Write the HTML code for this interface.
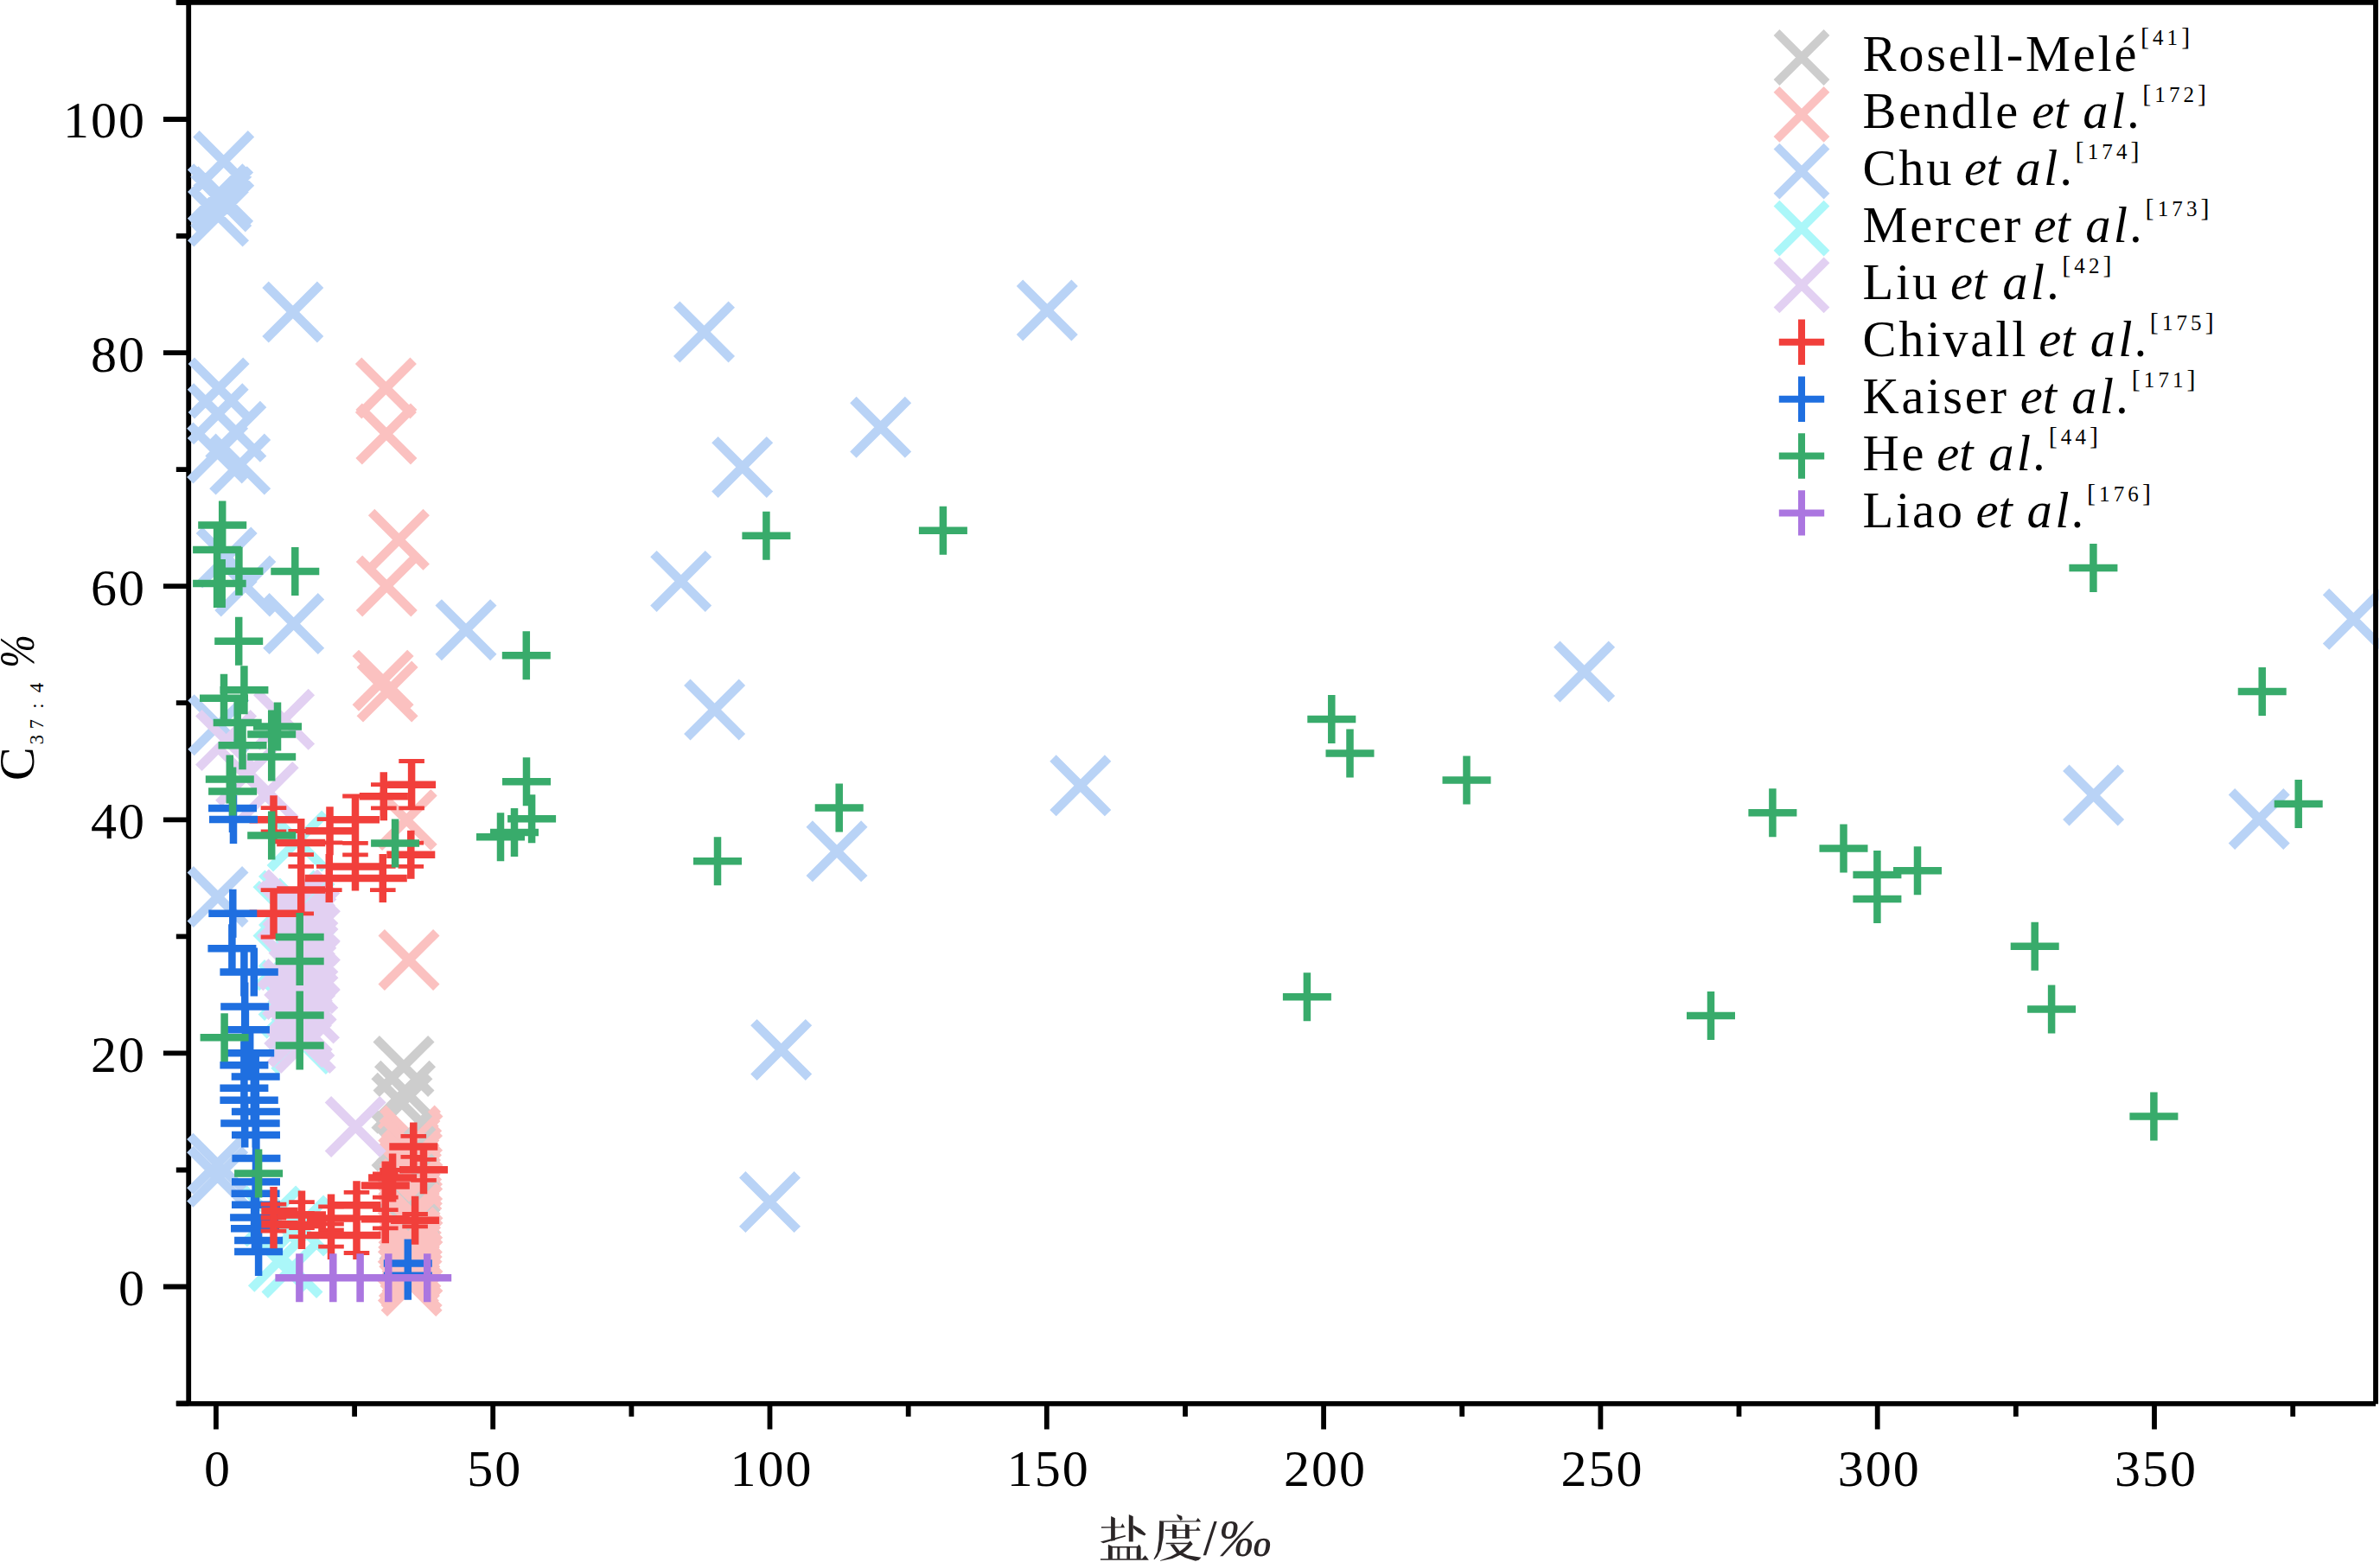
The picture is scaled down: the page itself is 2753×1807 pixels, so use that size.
<!DOCTYPE html>
<html lang="zh"><head><meta charset="utf-8"><title>C37:4% vs salinity</title>
<style>html,body{margin:0;padding:0;background:#fff}body{width:2753px;height:1807px;overflow:hidden}svg{display:block}text{font-family:"Liberation Serif",serif;fill:#000}.tk{font-size:60px;letter-spacing:2px}.lg{font-size:58.5px;letter-spacing:2.8px}.it{font-style:italic}.sp{font-size:25px;letter-spacing:4.1px}.bk{font-size:30px}</style></head><body>
<svg width="2753" height="1807" viewBox="0 0 2753 1807">
<rect width="2753" height="1807" fill="#fff"/>
<g stroke="#000" stroke-width="5.8" fill="none" stroke-linecap="butt">
<path d="M203.8 1623.8H2748M218.2 2.8V1623.8"/>
<path d="M203.8 1623.5H218.2M188.9 1488.5H218.2M203.8 1353.5H218.2M188.9 1218.4H218.2M203.8 1083.3H218.2M188.9 948.3H218.2M203.8 813.2H218.2M188.9 678.2H218.2M203.8 543.1H218.2M188.9 408.1H218.2M203.8 273H218.2M188.9 138H218.2M203.8 2.9H218.2"/>
<path d="M249.9 1623.8V1653.5M410.1 1623.8V1638.8M570.2 1623.8V1653.5M730.4 1623.8V1638.8M890.5 1623.8V1653.5M1050.7 1623.8V1638.8M1210.8 1623.8V1653.5M1371 1623.8V1638.8M1531.1 1623.8V1653.5M1691.2 1623.8V1638.8M1851.4 1623.8V1653.5M2011.5 1623.8V1638.8M2171.7 1623.8V1653.5M2331.8 1623.8V1638.8M2492 1623.8V1653.5M2652.2 1623.8V1638.8"/>
</g>
<g class="tk">
<text x="168.9" y="1509.9" text-anchor="end">0</text>
<text x="168.9" y="1239.8" text-anchor="end">20</text>
<text x="168.9" y="969.7" text-anchor="end">40</text>
<text x="168.9" y="699.6" text-anchor="end">60</text>
<text x="168.9" y="429.5" text-anchor="end">80</text>
<text x="168.9" y="159.4" text-anchor="end">100</text>
<text x="251.9" y="1719.2" text-anchor="middle">0</text>
<text x="572.2" y="1719.2" text-anchor="middle">50</text>
<text x="892.5" y="1719.2" text-anchor="middle">100</text>
<text x="1212.8" y="1719.2" text-anchor="middle">150</text>
<text x="1533.1" y="1719.2" text-anchor="middle">200</text>
<text x="1853.4" y="1719.2" text-anchor="middle">250</text>
<text x="2173.7" y="1719.2" text-anchor="middle">300</text>
<text x="2494" y="1719.2" text-anchor="middle">350</text>
</g>
<clipPath id="cp"><rect x="205" y="0" width="2546.6" height="1700"/></clipPath><g clip-path="url(#cp)">
<path fill="none" stroke="#CDCDCD" stroke-width="10.5" d="M435.2 1201.7L498.8 1265.3M435.2 1265.3L498.8 1201.7M436.7 1230.5L500.3 1294.1M436.7 1294.1L500.3 1230.5M433.1 1244.5L496.7 1308.1M433.1 1308.1L496.7 1244.5"/>
<path fill="none" stroke="#FBC1C0" stroke-width="10.5" d="M414.6 417.2L478.2 480.8M414.6 480.8L478.2 417.2M415.1 470.2L478.7 533.8M415.1 533.8L478.7 470.2M429.6 592.5L493.2 656.1M429.6 656.1L493.2 592.5M415.5 646.2L479.1 709.8M415.5 709.8L479.1 646.2M411.3 755.4L474.9 819M411.3 819L474.9 755.4M416.3 768.3L479.9 831.9M416.3 831.9L479.9 768.3M438.4 916.8L502 980.4M438.4 980.4L502 916.8M441.2 1078.7L504.8 1142.3M441.2 1142.3L504.8 1078.7"/>
<path fill="none" stroke="#FBC1C0" stroke-width="10.5" d="M442.7 1282.2L506.3 1345.8M442.7 1345.8L506.3 1282.2M445.2 1287.8L508.8 1351.4M445.2 1351.4L508.8 1287.8"/>
<path fill="none" stroke="#CDCDCD" stroke-width="10.5" d="M433.2 1288.2L496.8 1351.8M433.2 1351.8L496.8 1288.2"/>
<path fill="none" stroke="#FBC1C0" stroke-width="10.5" d="M442.1 1293.4L505.7 1357M442.1 1357L505.7 1293.4M440.4 1299L504 1362.6M440.4 1362.6L504 1299M443.9 1304.6L507.5 1368.2M443.9 1368.2L507.5 1304.6"/>
<path fill="none" stroke="#CDCDCD" stroke-width="10.5" d="M440.2 1306.2L503.8 1369.8M440.2 1369.8L503.8 1306.2"/>
<path fill="none" stroke="#FBC1C0" stroke-width="10.5" d="M444.7 1310.2L508.3 1373.8M444.7 1373.8L508.3 1310.2M441 1315.8L504.6 1379.4M441 1379.4L504.6 1315.8M441.2 1321.4L504.8 1385M441.2 1385L504.8 1321.4M444.8 1327L508.4 1390.6M444.8 1390.6L508.4 1327M443.7 1332.6L507.3 1396.2M443.7 1396.2L507.3 1332.6M440.3 1338.2L503.9 1401.8M440.3 1401.8L503.9 1338.2"/>
<path fill="none" stroke="#CDCDCD" stroke-width="10.5" d="M439.2 1338.2L502.8 1401.8M439.2 1401.8L502.8 1338.2"/>
<path fill="none" stroke="#FBC1C0" stroke-width="10.5" d="M442.3 1343.8L505.9 1407.4M442.3 1407.4L505.9 1343.8M445.2 1349.4L508.8 1413M445.2 1413L508.8 1349.4M442.4 1355L506 1418.6M442.4 1418.6L506 1355M440.3 1360.6L503.9 1424.2M440.3 1424.2L503.9 1360.6M443.6 1366.2L507.2 1429.8M443.6 1429.8L507.2 1366.2"/>
<path fill="none" stroke="#CDCDCD" stroke-width="10.5" d="M441.2 1366.2L504.8 1429.8M441.2 1429.8L504.8 1366.2"/>
<path fill="none" stroke="#FBC1C0" stroke-width="10.5" d="M444.9 1371.8L508.5 1435.4M444.9 1435.4L508.5 1371.8M441.2 1377.4L504.8 1441M441.2 1441L504.8 1377.4M440.9 1383L504.5 1446.6M440.9 1446.6L504.5 1383M444.6 1388.6L508.2 1452.2M444.6 1452.2L508.2 1388.6M444 1394.2L507.6 1457.8M444 1457.8L507.6 1394.2"/>
<path fill="none" stroke="#CDCDCD" stroke-width="10.5" d="M442.2 1396.2L505.8 1459.8M442.2 1459.8L505.8 1396.2"/>
<path fill="none" stroke="#FBC1C0" stroke-width="10.5" d="M440.4 1399.8L504 1463.4M440.4 1463.4L504 1399.8M442 1405.4L505.6 1469M442 1469L505.6 1405.4M445.2 1411L508.8 1474.6M445.2 1474.6L508.8 1411M442.8 1416.6L506.4 1480.2M442.8 1480.2L506.4 1416.6M440.2 1422.2L503.8 1485.8M440.2 1485.8L503.8 1422.2M443.2 1427.8L506.8 1491.4M443.2 1491.4L506.8 1427.8M445.1 1433.4L508.7 1497M445.1 1497L508.7 1433.4M441.6 1439L505.2 1502.6M441.6 1502.6L505.2 1439M440.6 1444.6L504.2 1508.2M440.6 1508.2L504.2 1444.6M444.4 1450.2L508 1513.8M444.4 1513.8L508 1450.2M444.3 1455.8L507.9 1519.4M444.3 1519.4L507.9 1455.8"/>
<path fill="none" stroke="#B9D3F6" stroke-width="10.5" d="M226.9 154.8L290.5 218.4M226.9 218.4L290.5 154.8M223.9 201.1L287.5 264.7M223.9 264.7L287.5 201.1M220.5 192.9L284.1 256.5M220.5 256.5L284.1 192.9M225.8 195.9L289.4 259.5M225.8 259.5L289.4 195.9M220.7 218.3L284.3 281.9M220.7 281.9L284.3 218.3M307 329.2L370.6 392.8M307 392.8L370.6 329.2M221.3 417.2L284.9 480.8M221.3 480.8L284.9 417.2M220.4 447L284 510.6M220.4 510.6L284 447M241 467.5L304.6 531.1M241 531.1L304.6 467.5M245.9 505.3L309.5 568.9M245.9 568.9L309.5 505.3M219.8 492.1L283.4 555.7M219.8 555.7L283.4 492.1M230.4 613.2L294 676.8M230.4 676.8L294 613.2M252 646.2L315.6 709.8M252 709.8L315.6 646.2M307.9 689.8L371.5 753.4M307.9 753.4L371.5 689.8M507.2 696.9L570.8 760.5M507.2 760.5L570.8 696.9M221 806.9L284.6 870.5M221 870.5L284.6 806.9M220.2 1005.7L283.8 1069.3M220.2 1069.3L283.8 1005.7M219.8 1314.4L283.4 1378M219.8 1378L283.4 1314.4M219.8 1329.5L283.4 1393.1M219.8 1393.1L283.4 1329.5M782.7 352.1L846.3 415.7M782.7 415.7L846.3 352.1M1179.5 327.2L1243.1 390.8M1179.5 390.8L1243.1 327.2M986.9 462.5L1050.5 526.1M986.9 526.1L1050.5 462.5M826.9 508.6L890.5 572.2M826.9 572.2L890.5 508.6M755.9 640.6L819.5 704.2M755.9 704.2L819.5 640.6M794.8 789.2L858.4 852.8M794.8 852.8L858.4 789.2M1218 877L1281.6 940.6M1218 940.6L1281.6 877M936.2 953L999.8 1016.6M936.2 1016.6L999.8 953M871.9 1182.6L935.5 1246.2M871.9 1246.2L935.5 1182.6M858.7 1358.8L922.3 1422.4M858.7 1422.4L922.3 1358.8M1800.8 745.1L1864.4 808.7M1800.8 808.7L1864.4 745.1M2690.5 684.5L2754.1 748.1M2690.5 748.1L2754.1 684.5M2389.8 888.2L2453.4 951.8M2389.8 951.8L2453.4 888.2M2581.4 915.7L2645 979.3M2581.4 979.3L2645 915.7"/>
<path fill="none" stroke="#ABF7F9" stroke-width="10.5" d="M290.6 1427.4L354.2 1491M290.6 1491L354.2 1427.4M306.2 1434.6L369.8 1498.2M306.2 1498.2L369.8 1434.6M312.3 941.2L375.9 1004.8M312.3 1004.8L375.9 941.2M320.2 1019.2L383.8 1082.8M320.2 1082.8L383.8 1019.2M282.2 1375.2L345.8 1438.8M282.2 1438.8L345.8 1375.2M314.2 1386.2L377.8 1449.8M314.2 1449.8L377.8 1386.2M296.2 1022.5L359.8 1086.1M296.2 1086.1L359.8 1022.5M296.2 1078.9L359.8 1142.5M296.2 1142.5L359.8 1078.9M302.7 1010.2L366.3 1073.8M302.7 1073.8L366.3 1010.2M321.4 1030.9L385 1094.5M321.4 1094.5L385 1030.9M322.1 1051.6L385.7 1115.2M322.1 1115.2L385.7 1051.6M319.7 1072.3L383.3 1135.9M319.7 1135.9L383.3 1072.3M316.2 1093L379.8 1156.6M316.2 1156.6L379.8 1093M302.3 1113.7L365.9 1177.3M302.3 1177.3L365.9 1113.7M305 1134.4L368.6 1198M305 1198L368.6 1134.4M313 1155.1L376.6 1218.7M313 1218.7L376.6 1155.1M317 1175.8L380.6 1239.4M317 1239.4L380.6 1175.8"/>
<path fill="none" stroke="#E2D0F2" stroke-width="10.5" d="M296.8 800.5L360.4 864.1M296.8 864.1L360.4 800.5M229.8 824.7L293.4 888.3M229.8 888.3L293.4 824.7M278.4 884.6L342 948.2M278.4 948.2L342 884.6M252.8 865.9L316.4 929.5M252.8 929.5L316.4 865.9M379.4 1271.7L443 1335.3M379.4 1335.3L443 1271.7M307.2 1009.2L370.8 1072.8M307.2 1072.8L370.8 1009.2M309.2 1016.1L372.8 1079.7M309.2 1079.7L372.8 1016.1M318.7 1023L382.3 1086.6M318.7 1086.6L382.3 1023M325.9 1029.9L389.5 1093.5M325.9 1093.5L389.5 1029.9M322 1036.8L385.6 1100.4M322 1100.4L385.6 1036.8M320.6 1043.7L384.2 1107.3M320.6 1107.3L384.2 1043.7M326.6 1050.6L390.2 1114.2M326.6 1114.2L390.2 1050.6M319.1 1057.5L382.7 1121.1M319.1 1121.1L382.7 1057.5M324.1 1064.4L387.7 1128M324.1 1128L387.7 1064.4M324.2 1071.3L387.8 1134.9M324.2 1134.9L387.8 1071.3M319.1 1078.2L382.7 1141.8M319.1 1141.8L382.7 1078.2M326.5 1085.1L390.1 1148.7M326.5 1148.7L390.1 1085.1M320.7 1092L384.3 1155.6M320.7 1155.6L384.3 1092M314.2 1098.9L377.8 1162.5M314.2 1162.5L377.8 1098.9M324 1105.8L387.6 1169.4M324 1169.4L387.6 1105.8M306.8 1112.7L370.4 1176.3M306.8 1176.3L370.4 1112.7M322.3 1119.6L385.9 1183.2M322.3 1183.2L385.9 1119.6M316.6 1126.5L380.2 1190.1M316.6 1190.1L380.2 1126.5M309.5 1133.4L373.1 1197M309.5 1197L373.1 1133.4M325.7 1140.3L389.3 1203.9M325.7 1203.9L389.3 1140.3M308.9 1147.2L372.5 1210.8M308.9 1210.8L372.5 1147.2M317.5 1154.1L381.1 1217.7M317.5 1217.7L381.1 1154.1M320.1 1161L383.7 1224.6M320.1 1224.6L383.7 1161M312.3 1167.9L375.9 1231.5M312.3 1231.5L375.9 1167.9M321.5 1174.8L385.1 1238.4M321.5 1238.4L385.1 1174.8M300.7 1022.5L364.3 1086.1M300.7 1086.1L364.3 1022.5M300.7 1078.9L364.3 1142.5M300.7 1142.5L364.3 1078.9"/>
<path fill="none" stroke="#F13F3B" stroke-width="4.8" d="M476.1 880.5V934.9M443.8 907.7V934.9M411 921V975.4M381.5 947.7V974.9M348.2 961.5V988.7M316.5 934.6V961.8M316.5 1029.6V1084M348.2 1002.4V1056.8M380.8 1002.4V1029.6M411 988.8V1016M442.8 1002.4V1029.6M475.3 975.1V1002.3"/>
<path fill="none" stroke="#F13F3B" stroke-width="4.8" d="M461.3 880.5H490.9M461.3 934.9H490.9M429 907.7H458.6M429 934.9H458.6M396.2 921H425.8M396.2 975.4H425.8M366.7 947.7H396.3M366.7 974.9H396.3M333.4 961.5H363M333.4 988.7H363M301.7 934.6H331.3M301.7 961.8H331.3M301.7 1029.6H331.3M301.7 1084H331.3M333.4 1002.4H363M333.4 1056.8H363M366 1002.4H395.6M366 1029.6H395.6M396.2 988.8H425.8M396.2 1016H425.8M428 1002.4H457.6M428 1029.6H457.6M460.5 975.1H490.1M460.5 1002.3H490.1"/>
<path fill="none" stroke="#F13F3B" stroke-width="8.5" d="M448.1 907.7H504.1M476.1 879.7V935.7M415.8 921.3H471.8M443.8 893.3V949.3M383 948.2H439M411 920.2V976.2M353.5 961.3H409.5M381.5 933.3V989.3M320.2 975.1H376.2M348.2 947.1V1003.1M288.5 948.2H344.5M316.5 920.2V976.2M288.5 1056.8H344.5M316.5 1028.8V1084.8M320.2 1029.6H376.2M348.2 1001.6V1057.6M352.8 1016H408.8M380.8 988V1044M383 1002.4H439M411 974.4V1030.4M414.8 1016H470.8M442.8 988V1044M447.3 988.7H503.3M475.3 960.7V1016.7"/>
<path fill="none" stroke="#1F6FE0" stroke-width="8.5" d="M241 934.9H297M269 906.9V962.9M242 947.9H298M270 919.9V975.9M241.3 1056.8H297.3M269.3 1028.8V1084.8M240.4 1097.3H296.4M268.4 1069.3V1125.3M254.4 1124.6H310.4M282.4 1096.6V1152.6M265.8 1124.6H321.8M293.8 1096.6V1152.6M255.2 1164.5H311.2M283.2 1136.5V1192.5M255.9 1191.3H311.9M283.9 1163.3V1219.3M261.2 1218.2H317.2M289.2 1190.2V1246.2M254.4 1232.2H310.4M282.4 1204.2V1260.2M267.7 1245.5H323.7M295.7 1217.5V1273.5M254.4 1258.8H310.4M282.4 1230.8V1286.8M254.4 1272.7H310.4M282.4 1244.7V1300.7M265.8 1272.7H321.8M293.8 1244.7V1300.7M267.9 1286H323.9M295.9 1258V1314M255.2 1299.5H311.2M283.2 1271.5V1327.5M267.7 1299.5H323.7M295.7 1271.5V1327.5M268 1313.1H324M296 1285.1V1341.1M268.4 1340H324.4M296.4 1312V1368M268 1367.2H324M296 1339.2V1395.2M267.6 1380.8H323.6M295.6 1352.8V1408.8M268 1393.8H324M296 1365.8V1421.8M266.1 1408.4H322.1M294.1 1380.4V1436.4M267 1421.2H323M295 1393.2V1449.2M271.1 1435.1H327.1M299.1 1407.1V1463.1M271.1 1448H327.1M299.1 1420V1476M443.8 1461.6H499.8M471.8 1433.6V1489.6M443.8 1475.7H499.8M471.8 1447.7V1503.7"/>
<path fill="none" stroke="#F13F3B" stroke-width="4.8" d="M316.5 1393.1V1409.1M316.5 1408.2V1424.2M349 1390.6V1420.6M349 1403.4V1430.6M383 1395.8V1423M383 1416.1V1442.1M412.5 1379.3V1409.3M412.5 1408.7V1449.5M445.8 1358V1385.2M445.8 1399.6V1420.8M454.1 1353.5V1371.5M480.1 1404.5V1418.9M490 1341.3V1365.3M478.3 1314.4V1338.4"/>
<path fill="none" stroke="#F13F3B" stroke-width="4.8" d="M301.7 1393.1H331.3M301.7 1409.1H331.3M301.7 1408.2H331.3M301.7 1424.2H331.3M334.2 1390.6H363.8M334.2 1420.6H363.8M334.2 1403.4H363.8M334.2 1430.6H363.8M368.2 1395.8H397.8M368.2 1423H397.8M368.2 1416.1H397.8M368.2 1442.1H397.8M397.7 1379.3H427.3M397.7 1409.3H427.3M397.7 1408.7H427.3M397.7 1449.5H427.3M431 1358H460.6M431 1385.2H460.6M431 1399.6H460.6M431 1420.8H460.6M439.3 1353.5H468.9M439.3 1371.5H468.9M465.3 1404.5H494.9M465.3 1418.9H494.9M475.2 1341.3H504.8M475.2 1365.3H504.8M463.5 1314.4H493.1M463.5 1338.4H493.1"/>
<path fill="none" stroke="#F13F3B" stroke-width="8.5" d="M302.3 1401.1H344.5M316.5 1373.1V1429.1M302.3 1416.2H344.5M316.5 1388.2V1444.2M321 1405.6H377M349 1377.6V1433.6M321 1417H377M349 1389V1445M355 1409.4H411M383 1381.4V1437.4M355 1429.1H411M383 1401.1V1457.1M384.5 1394.3H440.5M412.5 1366.3V1422.3M384.5 1429.1H440.5M412.5 1401.1V1457.1M417.8 1371.6H473.8M445.8 1343.6V1399.6M417.8 1410.2H473.8M445.8 1382.2V1438.2M426.1 1362.5H482.1M454.1 1334.5V1390.5M452.1 1411.7H508.1M480.1 1383.7V1439.7M462 1353.3H518M490 1325.3V1381.3M450.3 1326.4H506.3M478.3 1298.4V1354.4"/>
<path fill="none" stroke="#38AB6B" stroke-width="8.5" d="M229.2 607.5H285.2M257.2 579.5V635.5M223.1 636.1H279.1M251.1 608.1V664.1M248.4 660.8H304.4M276.4 632.8V688.8M223.1 675.1H279.1M251.1 647.1V703.1M228.7 675.1H284.7M256.7 647.1V703.1M313.3 660.9H369.3M341.3 632.9V688.9M248.2 741.8H304.2M276.2 713.8V769.8M254.4 798.2H310.4M282.4 770.2V826.2M231 807.8H287M259 779.8V835.8M246.7 836.1H302.7M274.7 808.1V864.1M252.5 862.3H308.5M280.5 834.3V890.3M293 840.6H349M321 812.6V868.6M286.2 849.4H342.2M314.2 821.4V877.4M286.2 875.4H342.2M314.2 847.4V903.4M237.8 901.6H293.8M265.8 873.6V929.6M241.1 915.5H297.1M269.1 887.5V943.5M286.2 966.6H342.2M314.2 938.6V994.6M429.1 975.4H485.1M457.1 947.4V1003.4M318.7 1084H374.7M346.7 1056V1112M318.7 1112H374.7M346.7 1084V1140M318.7 1174.4H374.7M346.7 1146.4V1202.4M231.6 1200.3H287.6M259.6 1172.3V1228.3M318.7 1209.6H374.7M346.7 1181.6V1237.6M271.1 1357.5H327.1M299.1 1329.5V1385.5M581 904.2H637M609 876.2V932.2M587.1 947.2H643.1M615.1 919.2V975.2M567 963H623M595 935V991M551 968.3H607M579 940.3V996.3M858.4 619.8H914.4M886.4 591.8V647.8M1062.9 613.7H1118.9M1090.9 585.7V641.7M580.8 758.2H636.8M608.8 730.2V786.2M942.7 934.5H998.7M970.7 906.5V962.5M802 996.2H858M830 968.2V1024.2M1512.3 832.1H1568.3M1540.3 804.1V860.1M1533.5 871.5H1589.5M1561.5 843.5V899.5M1668.5 902.5H1724.5M1696.5 874.5V930.5M2022.4 940.3H2078.4M2050.4 912.3V968.3M2104.5 981.5H2160.5M2132.5 953.5V1009.5M2143.4 1012H2199.4M2171.4 984V1040M2190 1007.3H2246M2218 979.3V1035.3M2143.4 1040H2199.4M2171.4 1012V1068M1483.9 1153.2H1539.9M1511.9 1125.2V1181.2M1951 1175.1H2007M1979 1147.1V1203.1M2393.4 657H2449.4M2421.4 629V685M2588.7 800.1H2644.7M2616.7 772.1V828.1M2630.7 930H2686.7M2658.7 902V958M2325.7 1094.7H2381.7M2353.7 1066.7V1122.7M2345.1 1167.6H2401.1M2373.1 1139.6V1195.6M2463.4 1291.4H2519.4M2491.4 1263.4V1319.4"/>
<path fill="none" stroke="#AB76E0" stroke-width="8.5" d="M318.4 1478.2H374.4M346.4 1450.2V1506.2M357.3 1478.2H413.3M385.3 1450.2V1506.2M388.6 1478.2H444.6M416.6 1450.2V1506.2M421.3 1478.2H477.3M449.3 1450.2V1506.2M466.2 1478.2H522.2M494.2 1450.2V1506.2"/>
</g>
<path stroke="#000" stroke-width="5.8" fill="none" d="M203.8 2.8H2750.9M2748 2.8V1624.3"/>
<path fill="none" stroke="#CDCDCD" stroke-width="9.6" d="M2055 37.5L2113 95.5M2055 95.5L2113 37.5"/>
<text class="lg" x="2154.4" y="81.7">Rosell-Melé</text>
<text class="sp" x="2475.9" y="51.8"><tspan class="bk">[</tspan>41<tspan class="bk">]</tspan></text>
<path fill="none" stroke="#FBC1C0" stroke-width="9.6" d="M2055 103.4L2113 161.4M2055 161.4L2113 103.4"/>
<text class="lg" x="2154.4" y="147.8">Bendle</text>
<text class="lg it" x="2350.2" y="147.8" style="letter-spacing:0">et</text>
<text class="lg it" x="2409.2" y="147.8" style="letter-spacing:3.4px">al.</text>
<text class="sp" x="2478.2" y="117.9"><tspan class="bk">[</tspan>172<tspan class="bk">]</tspan></text>
<path fill="none" stroke="#B9D3F6" stroke-width="9.6" d="M2055 169.2L2113 227.2M2055 227.2L2113 169.2"/>
<text class="lg" x="2154.4" y="213.8">Chu</text>
<text class="lg it" x="2271.9" y="213.8" style="letter-spacing:0">et</text>
<text class="lg it" x="2331.4" y="213.8" style="letter-spacing:3.4px">al.</text>
<text class="sp" x="2400.6" y="183.9"><tspan class="bk">[</tspan>174<tspan class="bk">]</tspan></text>
<path fill="none" stroke="#ABF7F9" stroke-width="9.6" d="M2055 235.1L2113 293.1M2055 293.1L2113 235.1"/>
<text class="lg" x="2154.4" y="279.9">Mercer</text>
<text class="lg it" x="2352.6" y="279.9" style="letter-spacing:0">et</text>
<text class="lg it" x="2412.2" y="279.9" style="letter-spacing:3.4px">al.</text>
<text class="sp" x="2481.6" y="250"><tspan class="bk">[</tspan>173<tspan class="bk">]</tspan></text>
<path fill="none" stroke="#E2D0F2" stroke-width="9.6" d="M2055 300.9L2113 358.9M2055 358.9L2113 300.9"/>
<text class="lg" x="2154.4" y="346">Liu</text>
<text class="lg it" x="2256.1" y="346" style="letter-spacing:0">et</text>
<text class="lg it" x="2316.2" y="346" style="letter-spacing:3.4px">al.</text>
<text class="sp" x="2385.2" y="316.1"><tspan class="bk">[</tspan>42<tspan class="bk">]</tspan></text>
<path fill="none" stroke="#F13F3B" stroke-width="8" d="M2057.8 395.8H2110.2M2084 369.6V422"/>
<text class="lg" x="2154.4" y="412">Chivall</text>
<text class="lg it" x="2358.2" y="412" style="letter-spacing:0">et</text>
<text class="lg it" x="2417.7" y="412" style="letter-spacing:3.4px">al.</text>
<text class="sp" x="2486.8" y="382.1"><tspan class="bk">[</tspan>175<tspan class="bk">]</tspan></text>
<path fill="none" stroke="#1F6FE0" stroke-width="8" d="M2057.8 461.7H2110.2M2084 435.5V487.9"/>
<text class="lg" x="2154.4" y="478.1">Kaiser</text>
<text class="lg it" x="2336.7" y="478.1" style="letter-spacing:0">et</text>
<text class="lg it" x="2396.2" y="478.1" style="letter-spacing:3.4px">al.</text>
<text class="sp" x="2465.7" y="448.2"><tspan class="bk">[</tspan>171<tspan class="bk">]</tspan></text>
<path fill="none" stroke="#38AB6B" stroke-width="8" d="M2057.8 527.5H2110.2M2084 501.3V553.7"/>
<text class="lg" x="2154.4" y="544.2">He</text>
<text class="lg it" x="2240.2" y="544.2" style="letter-spacing:0">et</text>
<text class="lg it" x="2300.2" y="544.2" style="letter-spacing:3.4px">al.</text>
<text class="sp" x="2369.7" y="514.3"><tspan class="bk">[</tspan>44<tspan class="bk">]</tspan></text>
<path fill="none" stroke="#AB76E0" stroke-width="8" d="M2057.8 593.4H2110.2M2084 567.2V619.6"/>
<text class="lg" x="2154.4" y="610.3">Liao</text>
<text class="lg it" x="2285.6" y="610.3" style="letter-spacing:0">et</text>
<text class="lg it" x="2344.6" y="610.3" style="letter-spacing:3.4px">al.</text>
<text class="sp" x="2414" y="580.4"><tspan class="bk">[</tspan>176<tspan class="bk">]</tspan></text>
<g transform="translate(39.2 903) rotate(-90)"><text x="0" y="0" style="font-size:58px">C<tspan dy="11" dx="3 3.5" style="font-size:22.5px;letter-spacing:3.3px">37 : 4</tspan></text><text x="130.2" y="0" class="it" style="font-size:58px" textLength="38.6" lengthAdjust="spacingAndGlyphs">%</text></g>
<g fill="#2b2627" stroke="none">
<polygon points="1285.1,1753.9 1289.8,1756.2 1289.8,1782.1 1285.1,1782.7"/>
<polygon points="1273.9,1766.3 1296.5,1766.3 1298.4,1762.2 1301.1,1767.3 1273.9,1767.7"/>
<polygon points="1272.9,1783.4 1301.6,1776.1 1302.1,1777.4 1276.2,1785.3"/>
<polygon points="1305.8,1752 1310.7,1754.3 1310.7,1783.4 1305.8,1783.4"/>
<polygon points="1310.7,1764.2 1319.2,1768.7 1325.6,1774.7 1323.8,1776.5 1317.3,1773.7 1310.7,1767.7"/>
<polygon points="1281.9,1786.7 1286.8,1789 1286.8,1803.8 1281.9,1803.8"/>
<polygon points="1281.9,1789 1315.5,1789 1317.8,1786.7 1319.6,1789.9 1319.6,1803.8 1314.7,1803.8 1314.7,1790.4 1281.9,1790.4"/>
<polygon points="1292.4,1789.9 1295.3,1789.9 1295.3,1803.8 1292.4,1803.8"/>
<polygon points="1303.4,1789.9 1307,1789.9 1307,1803.8 1303.4,1803.8"/>
<polygon points="1272.9,1803.3 1321,1803.3 1324.7,1799.2 1328.9,1804.7 1272.9,1804.7"/>
<polygon points="1360.8,1751.6 1367.2,1753.9 1367.7,1758 1365.4,1758.9 1362.6,1755.3"/>
<polygon points="1341.3,1759.4 1383.4,1759.4 1385.7,1755.9 1389.2,1760.5 1341.3,1760.8"/>
<polygon points="1341.3,1759.4 1346.2,1760.8 1345.5,1778.8 1342.7,1792.7 1338.6,1801 1335.1,1804.2 1334.5,1803.8 1338.6,1795.5 1340.6,1781.6"/>
<polygon points="1347.8,1769.6 1383.4,1769.6 1385.5,1766.3 1388.7,1770.7 1347.8,1770.9"/>
<polygon points="1356.1,1763.1 1360.9,1764.2 1360.9,1779.7 1356.1,1779.7"/>
<polygon points="1370.9,1763.1 1375.7,1764.2 1375.7,1779.7 1370.9,1779.7"/>
<polygon points="1356.1,1778.1 1375.7,1778.1 1375.7,1779.5 1356.1,1779.5"/>
<polygon points="1348.7,1784.8 1374.2,1784.8 1376.7,1782.5 1379.7,1786.2 1374.6,1791.8 1366.3,1798.2 1356.1,1802.9 1342.3,1805.8 1341.8,1805.2 1354.3,1800.5 1363.5,1795.5 1370.9,1789.9 1374.2,1786.2 1348.7,1786.2"/>
<polygon points="1353.4,1786.7 1358,1786.2 1364.5,1794.5 1373.7,1799.2 1389.4,1801.7 1386.6,1804.7 1382.9,1805.8 1370.9,1801.9 1360.8,1796.4"/>
<polygon points="1404.4,1759.9 1407.7,1759.9 1395.1,1799.2 1391.7,1799.2"/>
</g>
<text class="it" x="1409.2" y="1800" style="font-size:62px;fill:#2b2627;letter-spacing:0px">‰</text>
</svg></body></html>
